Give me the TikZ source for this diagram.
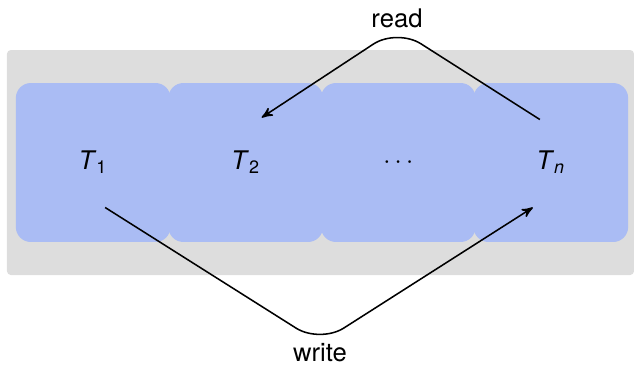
\documentclass[tikz,border=0pt]{standalone}
\usepackage{fontspec}
\setmainfont{TeX Gyre Heros}
\usepackage{tikz}
\usetikzlibrary{matrix, arrows}
\definecolor{taskblue}{RGB}{170,188,244}
\definecolor{panelgray}{RGB}{221,221,221}
\newcommand\tsk[1]{\textit{T}\textsubscript{#1}}

\begin{document}
\begin{tikzpicture}[x=0.39pt, y=-0.39pt, >=stealth',
  task/.style = {fill=taskblue, rounded corners=5.85pt, minimum width=60.3pt, minimum height=62pt, inner sep=0pt, anchor=center}]
\useasboundingbox (0,0) rectangle (634,365);
\fill [panelgray, rounded corners=1.5pt] (7,50) rectangle (634,275);
\matrix (m) at (322,162.5) [matrix of nodes, column sep = -0.8pt, nodes = {task}]{
\tsk{1} & \tsk{2} & $\cdots$ & \tsk{\textit{n}} \\
};
\node[inner sep=0pt] (rd) at (397,18.5) {read};
\node[inner sep=0pt] (wr) at (320,353) {write};
\draw [->, semithick, rounded corners=11pt] ([shift={(-11,-43)}]m-1-4.center) -- (rd.south) -- ([shift={(16,-45)}]m-1-2.center);
\draw [->, semithick, rounded corners=11pt] ([shift={(12,45)}]m-1-1.center) -- (wr.north) -- ([shift={(-18,45)}]m-1-4.center);
\end{tikzpicture}
\end{document}
